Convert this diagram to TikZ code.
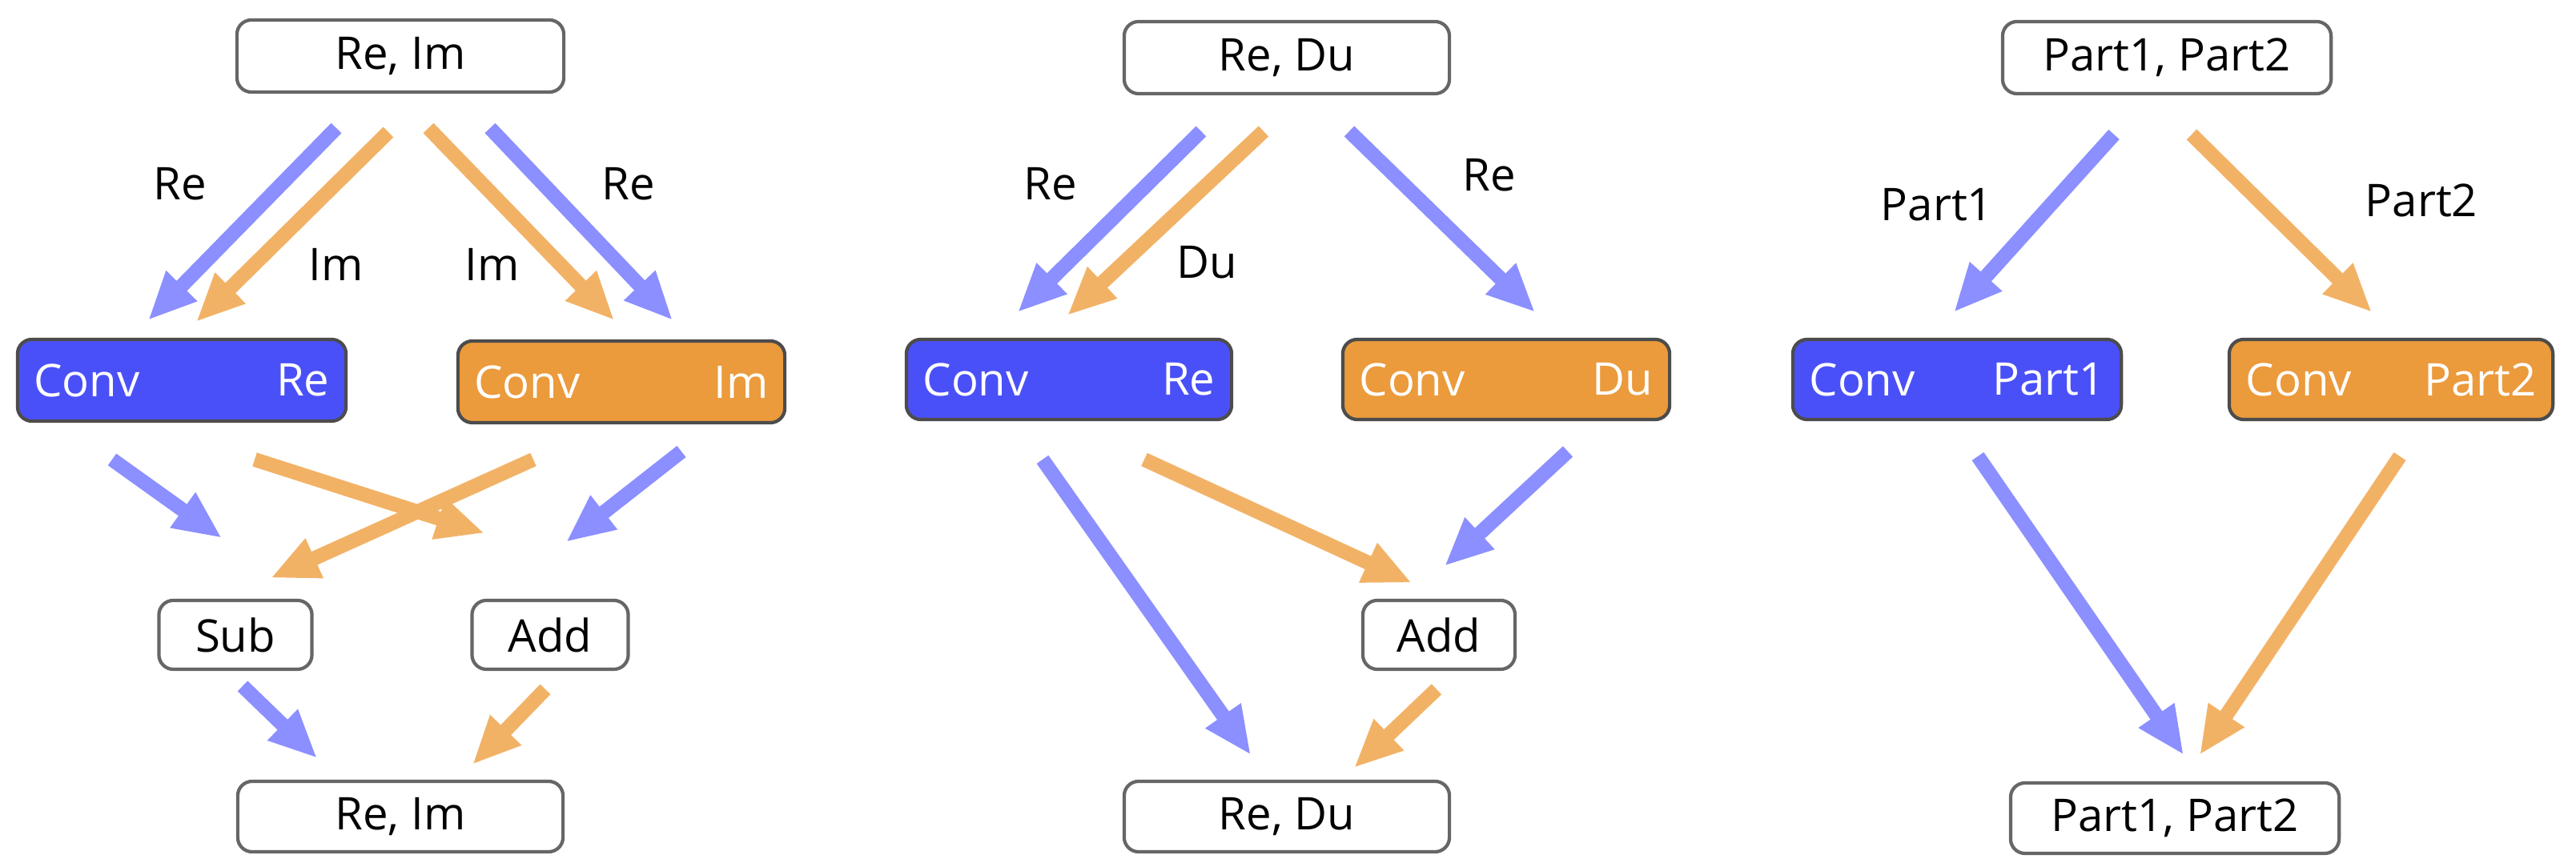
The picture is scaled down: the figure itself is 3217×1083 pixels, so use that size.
\documentclass[tikz,border=0pt]{standalone}
\usepackage{fontspec}
\setmainfont{Open Sans}
\usetikzlibrary{arrows.meta}
\begin{document}
\begin{tikzpicture}[x=0.01cm,y=-0.01cm,
  font=\fontsize{16}{19}\selectfont,
  wbox/.style={draw=black!60,line width=1.2pt,rounded corners=0.18cm,fill=white,inner sep=0},
  cbox/.style={draw=black!70,line width=1.2pt,rounded corners=0.18cm,inner sep=0},
  bl/.style={fill=blue!72!white},
  ob/.style={fill=orange!75!white},
  ct/.style={text=white,inner sep=0},
  arr/.style={line width=0.18cm,-{Triangle[length=0.6cm,width=0.5cm]}},
  ba/.style={arr,draw={rgb,255:red,139;green,143;blue,255}},
  oa/.style={arr,draw={rgb,255:red,242;green,178;blue,102}}]
\colorlet{convblue}{blue}
\definecolor{cb}{RGB}{74,80,248}
\definecolor{co}{RGB}{235,154,60}
\useasboundingbox (0,0) rectangle (3217,1083);
% ---------- panel 1
\node[wbox,minimum width=4.08cm,minimum height=0.9cm] (t1) at (500,70) {Re, Im};
\node[cbox,fill=cb,minimum width=4.1cm,minimum height=1.02cm] (c1a) at (227,475) {};
\node[ct,anchor=west] (c1al) at ([xshift=0.22cm]c1a.west) {Conv};
\node[ct,anchor=east] (c1ar) at ([xshift=-0.22cm]c1a.east) {Re};
\node[cbox,fill=co,minimum width=4.08cm,minimum height=1.02cm] (c1b) at (776,477) {};
\node[ct,anchor=west] (c1bl) at ([xshift=0.22cm]c1b.west) {Conv};
\node[ct,anchor=east] (c1br) at ([xshift=-0.22cm]c1b.east) {Im};
\node[wbox,minimum width=1.91cm,minimum height=0.86cm] (s1) at (294,793) {Sub};
\node[wbox,minimum width=1.95cm,minimum height=0.86cm] (a1) at (687,793) {Add};
\node[wbox,minimum width=4.06cm,minimum height=0.88cm] (b1) at (500,1020) {Re, Im};
\node (l1) at (225,230) {Re};
\node (l2) at (420,330) {Im};
\node (l3) at (615,330) {Im};
\node (l4) at (785,230) {Re};
\coordinate (p1s) at (420,160); \coordinate (p1e) at (185,400);
\coordinate (p2s) at (485,165); \coordinate (p2e) at (245,402);
\coordinate (p3s) at (535,160); \coordinate (p3e) at (767,400);
\coordinate (p4s) at (612,160); \coordinate (p4e) at (840,400);
\draw[ba] (p1s) -- (p1e);
\draw[oa] (p2s) -- (p2e);
\draw[oa] (p3s) -- (p3e);
\draw[ba] (p4s) -- (p4e);
\coordinate (q1s) at (140,574); \coordinate (q1e) at (277,672);
\coordinate (q2s) at (318,574); \coordinate (q2e) at (605,666);
\coordinate (q3s) at (666,574); \coordinate (q3e) at (338,722);
\coordinate (q4s) at (851,564); \coordinate (q4e) at (707,677);
\draw[ba] (q1s) -- (q1e);
\draw[oa] (q2s) -- (q2e);
\draw[oa] (q3s) -- (q3e);
\draw[ba] (q4s) -- (q4e);
\coordinate (r1s) at (303,857); \coordinate (r1e) at (396,947);
\coordinate (r2s) at (681,861); \coordinate (r2e) at (590,955);
\draw[ba] (r1s) -- (r1e);
\draw[oa] (r2s) -- (r2e);
% ---------- panel 2
\node[wbox,minimum width=4.06cm,minimum height=0.9cm] (t2) at (1607,72) {Re, Du};
\node[cbox,fill=cb,minimum width=4.06cm,minimum height=1.0cm] (c2a) at (1335,474) {};
\node[ct,anchor=west] (c2al) at ([xshift=0.22cm]c2a.west) {Conv};
\node[ct,anchor=east] (c2ar) at ([xshift=-0.22cm]c2a.east) {Re};
\node[cbox,fill=co,minimum width=4.08cm,minimum height=1.0cm] (c2b) at (1881,474) {};
\node[ct,anchor=west] (c2bl) at ([xshift=0.22cm]c2b.west) {Conv};
\node[ct,anchor=east] (c2br) at ([xshift=-0.22cm]c2b.east) {Du};
\node[wbox,minimum width=1.9cm,minimum height=0.86cm] (a2) at (1797,793) {Add};
\node[wbox,minimum width=4.06cm,minimum height=0.88cm] (b2) at (1607,1020) {Re, Du};
\node (m1) at (1312,230) {Re};
\node (m2) at (1507,328) {Du};
\node (m3) at (1860,219) {Re};
\coordinate (u1s) at (1500,164); \coordinate (u1e) at (1271,390);
\coordinate (u2s) at (1578,164); \coordinate (u2e) at (1333,394);
\coordinate (u3s) at (1685,164); \coordinate (u3e) at (1917,390);
\draw[ba] (u1s) -- (u1e);
\draw[oa] (u2s) -- (u2e);
\draw[ba] (u3s) -- (u3e);
\coordinate (v1s) at (1302,574); \coordinate (v1e) at (1562,943);
\coordinate (v2s) at (1429,574); \coordinate (v2e) at (1763,728);
\coordinate (v3s) at (1958,564); \coordinate (v3e) at (1804,707);
\coordinate (v4s) at (1794,861); \coordinate (v4e) at (1691,959);
\draw[ba] (v1s) -- (v1e);
\draw[oa] (v2s) -- (v2e);
\draw[ba] (v3s) -- (v3e);
\draw[oa] (v4s) -- (v4e);
% ---------- panel 3
\node[wbox,minimum width=4.1cm,minimum height=0.9cm] (t3) at (2706,72) {Part1, Part2};
\node[cbox,fill=cb,minimum width=4.1cm,minimum height=1.0cm] (c3a) at (2444,474) {};
\node[ct,anchor=west] (c3al) at ([xshift=0.22cm]c3a.west) {Conv};
\node[ct,anchor=east] (c3ar) at ([xshift=-0.22cm]c3a.east) {Part1};
\node[cbox,fill=co,minimum width=4.04cm,minimum height=1.0cm] (c3b) at (2986,474) {};
\node[ct,anchor=west] (c3bl) at ([xshift=0.22cm]c3b.west) {Conv};
\node[ct,anchor=east] (c3br) at ([xshift=-0.22cm]c3b.east) {Part2};
\node[wbox,minimum width=4.1cm,minimum height=0.88cm] (b3) at (2716,1022) {Part1, Part2};
\node (n1) at (2419,256) {Part1};
\node (n2) at (3024,250) {Part2};
\coordinate (w1s) at (2640,168); \coordinate (w1e) at (2440,390);
\coordinate (w2s) at (2737,168); \coordinate (w2e) at (2962,390);
\coordinate (w3s) at (2470,570); \coordinate (w3e) at (2727,943);
\coordinate (w4s) at (2997,570); \coordinate (w4e) at (2747,943);
\draw[ba] (w1s) -- (w1e);
\draw[oa] (w2s) -- (w2e);
\draw[ba] (w3s) -- (w3e);
\draw[oa] (w4s) -- (w4e);
\end{tikzpicture}
\end{document}
